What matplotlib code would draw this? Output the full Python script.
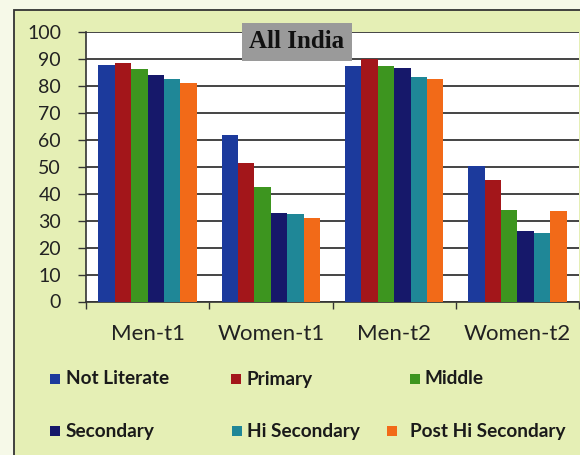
import matplotlib.pyplot as plt
import matplotlib.patches as mpatches
import numpy as np

plt.rcParams['font.family'] = ['Lato', 'DejaVu Sans']

categories = ['Men-t1', 'Women-t1', 'Men-t2', 'Women-t2']
levels = ['Not Literate', 'Primary', 'Middle', 'Secondary', 'Hi Secondary', 'Post Hi Secondary']
not_literate = [87.9, 61.6, 87.3, 50.2]
primary = [88.4, 51.5, 90.1, 44.9]
middle = [86.3, 42.6, 87.3, 34.1]
secondary = [83.9, 32.8, 86.7, 26.3]
hi_secondary = [82.6, 32.5, 83.3, 25.6]
post_hi_secondary = [80.9, 31.0, 82.6, 33.6]
series = [not_literate, primary, middle, secondary, hi_secondary, post_hi_secondary]
colors = ['#1c3a9c', '#a3161a', '#3d951f', '#16186a', '#1f8797', '#f26a18']

bg = '#e5efb5'
fig = plt.figure(figsize=(5.8, 4.55), dpi=100, facecolor='#f6f9e8')
# frame
fig.add_artist(mpatches.Rectangle((14 / 580, -0.01), 1.0, 1 - 10 / 455 + 0.01, transform=fig.transFigure,
                                  facecolor=bg, edgecolor='#333333', linewidth=1.3, zorder=0))

ax = fig.add_axes([86 / 580, 1 - 301.5 / 455, 493 / 580, 269.5 / 455])
ax.set_facecolor('white')

x = np.arange(len(categories))
w = 0.8 / 6
for i, (vals, c) in enumerate(zip(series, colors)):
    ax.bar(x + (i - 2.5) * w, vals, width=w, color=c, zorder=3)

ax.set_xlim(-0.5, 3.5)
ax.set_ylim(0, 100)
ax.set_yticks(range(0, 101, 10))
ax.set_xticks(x)
ax.set_xticklabels(categories, fontsize=16, color='#222222')
ax.set_xticks(np.arange(-0.5, 4, 1), minor=True)
ax.tick_params(axis='x', which='major', length=0, pad=16)
ax.tick_params(axis='x', which='minor', length=5, width=1, color='#333333', direction='out')
ax.tick_params(axis='y', length=6, width=1, color='#333333', labelsize=14, labelcolor='#222222', pad=12)
ax.grid(axis='y', color='#444444', linewidth=1.4, zorder=1)
for s in ['top', 'right']:
    ax.spines[s].set_visible(False)
for s in ['left', 'bottom']:
    ax.spines[s].set_color('#333333')
    ax.spines[s].set_linewidth(1.2)

fig.text(297 / 580, 1 - 42 / 455, 'All India', family='Liberation Serif', fontweight='bold', fontsize=18,
         ha='center', va='center', color='#111111',
         bbox=dict(boxstyle='square,pad=0.3', facecolor='#9a9a9a', edgecolor='none'))

# legend
leg_pos = [(50, 379), (231, 379), (410, 379), (50, 431), (232, 431), (387, 431)]
text_x = [66, 246, 425, 66, 247, 410]
for lab, c, (mx, my), tx in zip(levels, colors, leg_pos, text_x):
    fig.add_artist(mpatches.Rectangle((mx / 580, 1 - (my + 5) / 455), 10 / 580, 10 / 455,
                                      transform=fig.transFigure, facecolor=c, edgecolor='none'))
    fig.text(tx / 580, 1 - my / 455, lab, fontsize=13.7, fontweight='bold', color='#1a1a1a',
             ha='left', va='center')

fig.savefig('out.png', dpi=100, facecolor=fig.get_facecolor())
